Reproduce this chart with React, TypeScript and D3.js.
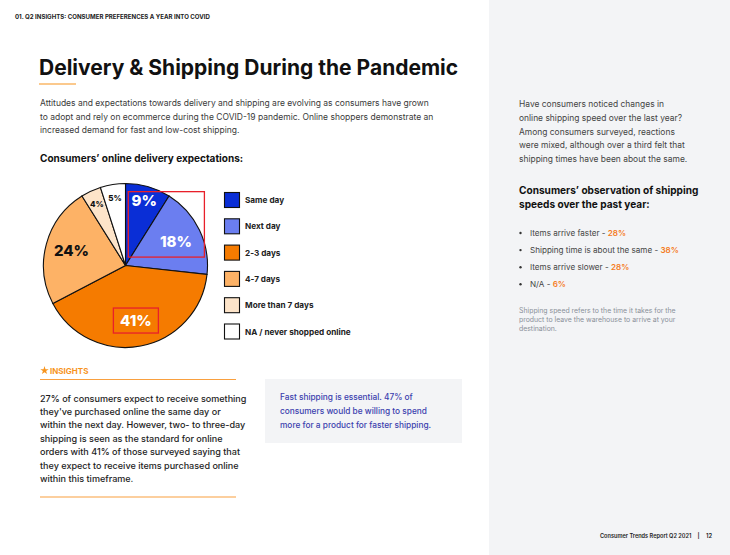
import React, { useEffect, useRef } from 'react';
import * as d3 from 'd3';

// delivery expectations (pie)
const categories = ['Same day', 'Next day', '2-3 days', '4-7 days', 'More than 7 days', 'NA / never shopped online'];
const shares = [9, 18, 41, 24, 4, 5];
const sliceColors = ['#0a2ed6', '#6b7ef0', '#f57b00', '#fdb266', '#fde4c9', '#ffffff'];

// observation of shipping speeds (bullets)
const obsLabels = ['Items arrive faster', 'Shipping time is about the same', 'Items arrive slower', 'N/A'];
const obsValues = [28, 38, 28, 6];

const introLines = [
  'Attitudes and expectations towards delivery and shipping are evolving as consumers have grown',
  'to adopt and rely on ecommerce during the COVID-19 pandemic. Online shoppers demonstrate an',
  'increased demand for fast and low-cost shipping.',
];
const sideLines = [
  'Have consumers noticed changes in',
  'online shipping speed over the last year?',
  'Among consumers surveyed, reactions',
  'were mixed, although over a third felt that',
  'shipping times have been about the same.',
];
const noteLines = [
  'Shipping speed refers to the time it takes for the',
  'product to leave the warehouse to arrive at your',
  'destination.',
];
const insightLines = [
  '27% of consumers expect to receive something',
  "they've purchased online the same day or",
  'within the next day. However, two- to three-day',
  'shipping is seen as the standard for online',
  'orders with 41% of those surveyed saying that',
  'they expect to receive items purchased online',
  'within this timeframe.',
];
const boxLines = [
  'Fast shipping is essential. 47% of',
  'consumers would be willing to spend',
  'more for a product for faster shipping.',
];

const FONT = 'Inter, "Noto Sans", sans-serif';

const App: React.FC = () => {
  const svgRef = useRef<SVGSVGElement>(null);

  useEffect(() => {
    if (!svgRef.current) return;
    const svg = d3.select(svgRef.current);
    svg.selectAll('*').remove();

    svg.append('rect').attr('width', 730).attr('height', 555).attr('fill', '#ffffff');
    // right side panel
    svg.append('rect').attr('x', 489).attr('width', 241).attr('height', 555).attr('fill', '#f3f4f6');

    const text = (x: number, y: number, s: string, size: number, weight: number, fill: string) =>
      svg.append('text')
        .attr('x', x).attr('y', y)
        .attr('font-family', FONT)
        .attr('font-size', size)
        .attr('font-weight', weight)
        .attr('fill', fill)
        .text(s);

    // header
    text(15, 18.5, '01. Q2 INSIGHTS: CONSUMER PREFERENCES A YEAR INTO COVID', 6.1, 700, '#222');

    // title
    text(39, 75, 'Delivery & Shipping During the Pandemic', 21, 700, '#111');
    svg.append('line').attr('x1', 39).attr('x2', 76).attr('y1', 84).attr('y2', 84)
      .attr('stroke', '#f7941d').attr('stroke-width', 1.2);

    const lineY = d3.scaleLinear().domain([0, 1]).range([106, 119.5]);
    introLines.forEach((l, i) => text(40, lineY(i), l, 8.5, 400, '#3a3a3a'));

    text(40, 162, 'Consumers\u2019 online delivery expectations:', 10, 700, '#111');

    // pie
    const R = 82;
    const cx = 125.5, cy = 265.5;
    const pie = d3.pie<number>().sort(null).value(d => d);
    const arcs = pie(shares);
    const arc = d3.arc<d3.PieArcDatum<number>>().innerRadius(0).outerRadius(R);
    const g = svg.append('g').attr('transform', `translate(${cx},${cy})`);
    g.selectAll('path.slice')
      .data(arcs)
      .join('path')
      .attr('class', 'slice')
      .attr('d', arc)
      .attr('fill', (_, i) => sliceColors[i])
      .attr('stroke', '#111')
      .attr('stroke-width', 1.1);

    const labelArc = (d: d3.PieArcDatum<number>) => {
      const r = d.data < 10 ? 68 : 56;
      return d3.arc<d3.PieArcDatum<number>>().innerRadius(r).outerRadius(r).centroid(d);
    };
    g.selectAll('text.lbl')
      .data(arcs)
      .join('text')
      .attr('class', 'lbl')
      .attr('x', d => labelArc(d)[0])
      .attr('y', d => labelArc(d)[1])
      .attr('text-anchor', 'middle')
      .attr('dominant-baseline', 'central')
      .attr('font-family', FONT)
      .attr('font-weight', 800)
      .attr('font-size', d => (d.data <= 5 ? 8 : 15))
      .attr('fill', (_, i) => (i < 3 ? '#ffffff' : '#111'))
      .text(d => `${d.data}%`);

    // red highlight boxes
    const c9 = labelArc(arcs[0]);
    const c18 = labelArc(arcs[1]);
    const c41 = labelArc(arcs[2]);
    g.append('rect')
      .attr('x', c9[0] - 16).attr('y', c9[1] - 8.5)
      .attr('width', c18[0] + 28.5 - (c9[0] - 16)).attr('height', c18[1] + 16 - (c9[1] - 8.5))
      .attr('fill', 'none').attr('stroke', '#e8202a').attr('stroke-width', 1.3);
    g.append('rect')
      .attr('x', c41[0] - 22.5).attr('y', c41[1] - 12.5)
      .attr('width', 45).attr('height', 25)
      .attr('fill', 'none').attr('stroke', '#e8202a').attr('stroke-width', 1.3);

    // legend
    const legY = d3.scaleLinear().domain([0, 1]).range([192.5, 218.8]);
    const leg = svg.append('g');
    categories.forEach((c, i) => {
      leg.append('rect')
        .attr('x', 224.5).attr('y', legY(i))
        .attr('width', 15).attr('height', 15)
        .attr('fill', sliceColors[i])
        .attr('stroke', '#111').attr('stroke-width', 1.1);
      leg.append('text')
        .attr('x', 245).attr('y', legY(i) + 10.5)
        .attr('font-family', FONT).attr('font-size', 8.2).attr('font-weight', 700)
        .attr('fill', '#222')
        .text(c);
    });

    // insights
    const star = d3.symbol().type(d3.symbolStar).size(22);
    svg.append('path').attr('d', star()!).attr('transform', 'translate(44.5,370.5)').attr('fill', '#f7941d');
    text(50, 374, 'INSIGHTS', 8, 700, '#f7941d');
    svg.append('line').attr('x1', 40).attr('x2', 236).attr('y1', 379.5).attr('y2', 379.5)
      .attr('stroke', '#f9a03f').attr('stroke-width', 1.2);
    const insY = d3.scaleLinear().domain([0, 1]).range([401.5, 414.95]);
    insightLines.forEach((l, i) => text(40, insY(i), l, 9.05, 500, '#1e1e1e'));
    svg.append('line').attr('x1', 40).attr('x2', 236).attr('y1', 497).attr('y2', 497)
      .attr('stroke', '#f9a03f').attr('stroke-width', 1.2);

    // callout box
    svg.append('rect').attr('x', 265).attr('y', 379).attr('width', 197).attr('height', 64).attr('fill', '#f3f4f6');
    const boxY = d3.scaleLinear().domain([0, 1]).range([400.3, 414.1]);
    boxLines.forEach((l, i) => text(280, boxY(i), l, 8.3, 500, '#3b3fae'));

    // right column
    const sideY = d3.scaleLinear().domain([0, 1]).range([107, 120.8]);
    sideLines.forEach((l, i) => text(519, sideY(i), l, 8.45, 400, '#444'));
    text(519, 194, 'Consumers\u2019 observation of shipping', 10.1, 700, '#111');
    text(519, 208, 'speeds over the past year:', 10.1, 700, '#111');

    const bulY = d3.scaleLinear().domain([0, 1]).range([235.6, 252.7]);
    obsLabels.forEach((l, i) => {
      svg.append('circle').attr('cx', 520.5).attr('cy', bulY(i) - 2.6).attr('r', 1.2).attr('fill', '#333');
      const t = text(530, bulY(i), `${l} - `, 8.1, 400, '#444');
      t.append('tspan').attr('fill', '#f57c1f').attr('font-weight', 600).text(`${obsValues[i]}%`);
    });

    const noteY = d3.scaleLinear().domain([0, 1]).range([312.5, 321.7]);
    noteLines.forEach((l, i) => text(519, noteY(i), l, 6.9, 400, '#8a9099'));

    // footer
    text(600, 538, 'Consumer Trends Report Q2 2021', 5.6, 600, '#222');
    text(697.5, 538, '|', 5.8, 600, '#222');
    text(706, 538, '12', 5.8, 600, '#222');
  }, []);

  return (
    <svg
      ref={svgRef}
      width={730}
      height={555}
      style={{ position: 'absolute', left: 0, top: 0 }}
    />
  );
};

export default App;
